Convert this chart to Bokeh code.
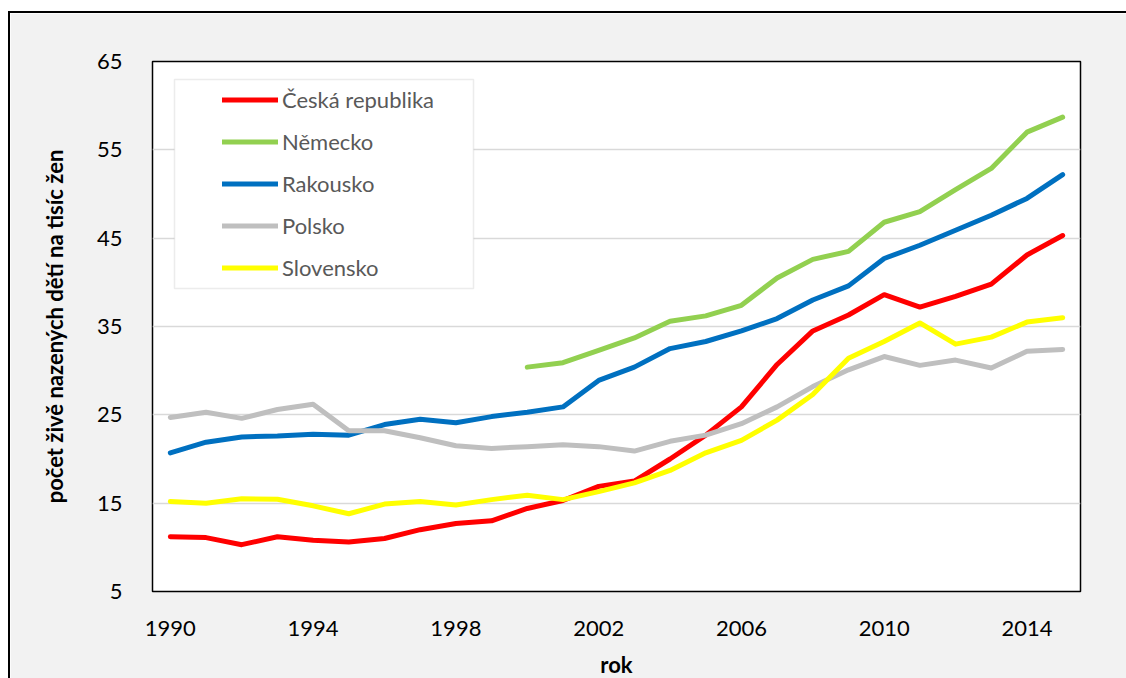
import math
from bokeh.plotting import figure
from bokeh.models import Range1d, FixedTicker, BoxAnnotation
from bokeh.embed import file_html
from bokeh.resources import INLINE

nan = math.nan

years = list(range(1990, 2016))
x_ticks = [1990, 1994, 1998, 2002, 2006, 2010, 2014]
y_ticks = [5, 15, 25, 35, 45, 55, 65]

ceska = [11.2, 11.1, 10.3, 11.2, 10.8, 10.6, 11.0, 12.0, 12.7, 13.0, 14.4, 15.3, 16.9,
         17.5, 20.0, 22.7, 25.9, 30.7, 34.5, 36.3, 38.6, 37.2, 38.4, 39.8, 43.1, 45.3]
nemecko = [nan] * 10 + [30.4, 30.9, 32.3, 33.7, 35.6, 36.2, 37.4, 40.5, 42.6, 43.5,
                        46.8, 48.0, 50.5, 52.9, 57.0, 58.7]
rakousko = [20.7, 21.9, 22.5, 22.6, 22.8, 22.7, 23.9, 24.5, 24.1, 24.8, 25.3, 25.9, 28.9,
            30.4, 32.5, 33.3, 34.5, 35.9, 38.0, 39.6, 42.7, 44.2, 45.9, 47.6, 49.5, 52.2]
polsko = [24.7, 25.3, 24.6, 25.6, 26.2, 23.2, 23.2, 22.4, 21.5, 21.2, 21.4, 21.6, 21.4,
          20.9, 22.0, 22.7, 24.0, 25.9, 28.2, 30.1, 31.6, 30.6, 31.2, 30.3, 32.2, 32.4]
slovensko = [15.2, 15.0, 15.5, 15.45, 14.7, 13.8, 14.9, 15.2, 14.8, 15.4, 15.9, 15.4, 16.3,
             17.3, 18.7, 20.7, 22.1, 24.4, 27.3, 31.4, 33.3, 35.4, 33.0, 33.8, 35.5, 36.0]

series = [
    ("Česká republika", ceska, "#ff0000"),
    ("Německo", nemecko, "#92d050"),
    ("Rakousko", rakousko, "#0070c0"),
    ("Polsko", polsko, "#bfbfbf"),
    ("Slovensko", slovensko, "#ffff00"),
]

FONT = "Lato"

p = figure(
    frame_width=928, frame_height=530,
    min_border_left=142, min_border_top=48, min_border_right=46, min_border_bottom=87,
    x_range=Range1d(1989.5, 2015.5), y_range=Range1d(5, 65),
    output_backend="svg", toolbar_location=None,
    background_fill_color="white", border_fill_color="#f2f2f2",
    outline_line_color="black", outline_line_width=1.5,
    styles={"border-left": "2px solid black", "border-top": "2px solid black",
            "margin-left": "8px", "margin-top": "11px"},
)

# grid
p.xgrid.grid_line_color = None
p.ygrid.grid_line_color = "#d9d9d9"
p.ygrid.grid_line_width = 1.5
p.ygrid.ticker = FixedTicker(ticks=y_ticks)

# axes
for ax in (p.xaxis[0], p.yaxis[0]):
    ax.axis_line_color = None
    ax.major_tick_line_color = None
    ax.minor_tick_line_color = None
    ax.major_label_text_font = FONT
    ax.major_label_text_font_size = "22px"
    ax.major_label_text_color = "black"
    ax.axis_label_text_font = FONT
    ax.axis_label_text_font_style = "bold"
    ax.axis_label_text_font_size = "22px"
    ax.axis_label_text_color = "black"

p.xaxis.ticker = FixedTicker(ticks=x_ticks)
p.yaxis.ticker = FixedTicker(ticks=y_ticks)
p.xaxis.axis_label = "rok"
p.yaxis.axis_label = "počet živě nazených dětí na tisíc žen"
p.xaxis.major_label_standoff = 23
p.xaxis.axis_label_standoff = 12
p.yaxis.major_label_standoff = 24
p.yaxis.axis_label_standoff = 26

# legend frame
legend_box = BoxAnnotation(
    left=22, right=321, bottom=303, top=512,
    left_units="screen", right_units="screen", bottom_units="screen", top_units="screen",
    fill_color="white", fill_alpha=1.0, line_color="#bfbfbf", line_width=1.5,
)
p.add_layout(legend_box)

for name, vals, col in series:
    p.line(years, vals, line_color=col, line_width=5, line_cap="round",
           line_join="round", legend_label=name)

lg = p.legend[0]
lg.location = (70, 310)
lg.padding = 0
lg.margin = 0
lg.spacing = 15
lg.glyph_width = 56
lg.glyph_height = 21
lg.label_height = 21
lg.label_standoff = 4
lg.label_text_font = FONT
lg.label_text_font_size = "22px"
lg.label_text_color = "#595959"
lg.border_line_alpha = 0
lg.background_fill_alpha = 0

open("out.html", "w").write(file_html(p, INLINE))
